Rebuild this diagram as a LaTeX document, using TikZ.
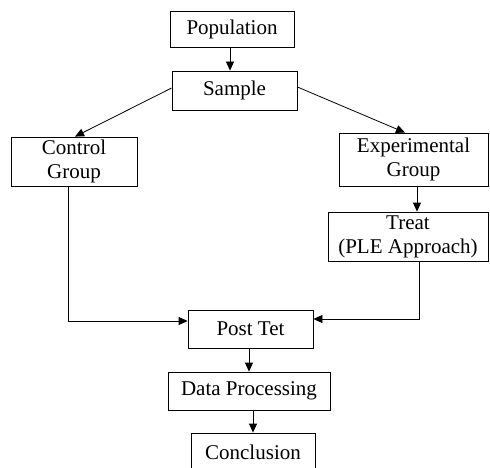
\documentclass[tikz,border=0pt]{standalone}
\usepackage{fontspec}
\setmainfont{Liberation Serif}
\usetikzlibrary{arrows.meta}
\begin{document}
\begin{tikzpicture}[x=1pt,y=1pt,
  box/.style={draw=black,line width=0.8pt,inner sep=0pt,align=center,
    font=\fontsize{21}{24}\selectfont},
  arr/.style={line width=0.8pt,-{Triangle[length=9pt,width=8pt]}}]
\useasboundingbox (0,0) rectangle (490,-468);
\node[box,minimum width=124,minimum height=36] (pop) at (232,-29) {Population};
\node[box,minimum width=125,minimum height=39] (samp) at (234.5,-90.5) {Sample};
\node[box,minimum width=126,minimum height=49] (ctrl) at (74,-161.5) {Control\\Group};
\node[box,minimum width=149,minimum height=53] (exp) at (413.5,-159.5) {Experimental\\Group};
\node[box,minimum width=160,minimum height=49] (treat) at (408,-236.5) {Treat\\(PLE Approach)};
\node[box,minimum width=125,minimum height=38] (post) at (250.5,-329) {Post Tet};
\node[box,minimum width=162,minimum height=38] (data) at (249,-391) {Data Processing};
\node[box,minimum width=124,minimum height=38] (conc) at (253,-452) {Conclusion};
\draw[arr] (pop.south -| 230,0) -- (samp.north -| 230,0);
\draw[arr] (samp.west |- 0,-88) -- (ctrl.north -| 75,0);
\draw[arr] (samp.east |- 0,-87) -- (exp.north -| 405,0);
\draw[arr] (exp.south -| 417,0) -- (treat.north -| 417,0);
\draw[arr] (ctrl.south -| 68,0) -- (68,-321) -- (post.west |- 0,-321);
\draw[arr] (treat.south -| 419,0) -- (419,-319) -- (post.east |- 0,-319);
\draw[arr] (post.south -| 249,0) -- (data.north -| 249,0);
\draw[arr] (data.south -| 253,0) -- (conc.north -| 253,0);
\end{tikzpicture}
\end{document}
